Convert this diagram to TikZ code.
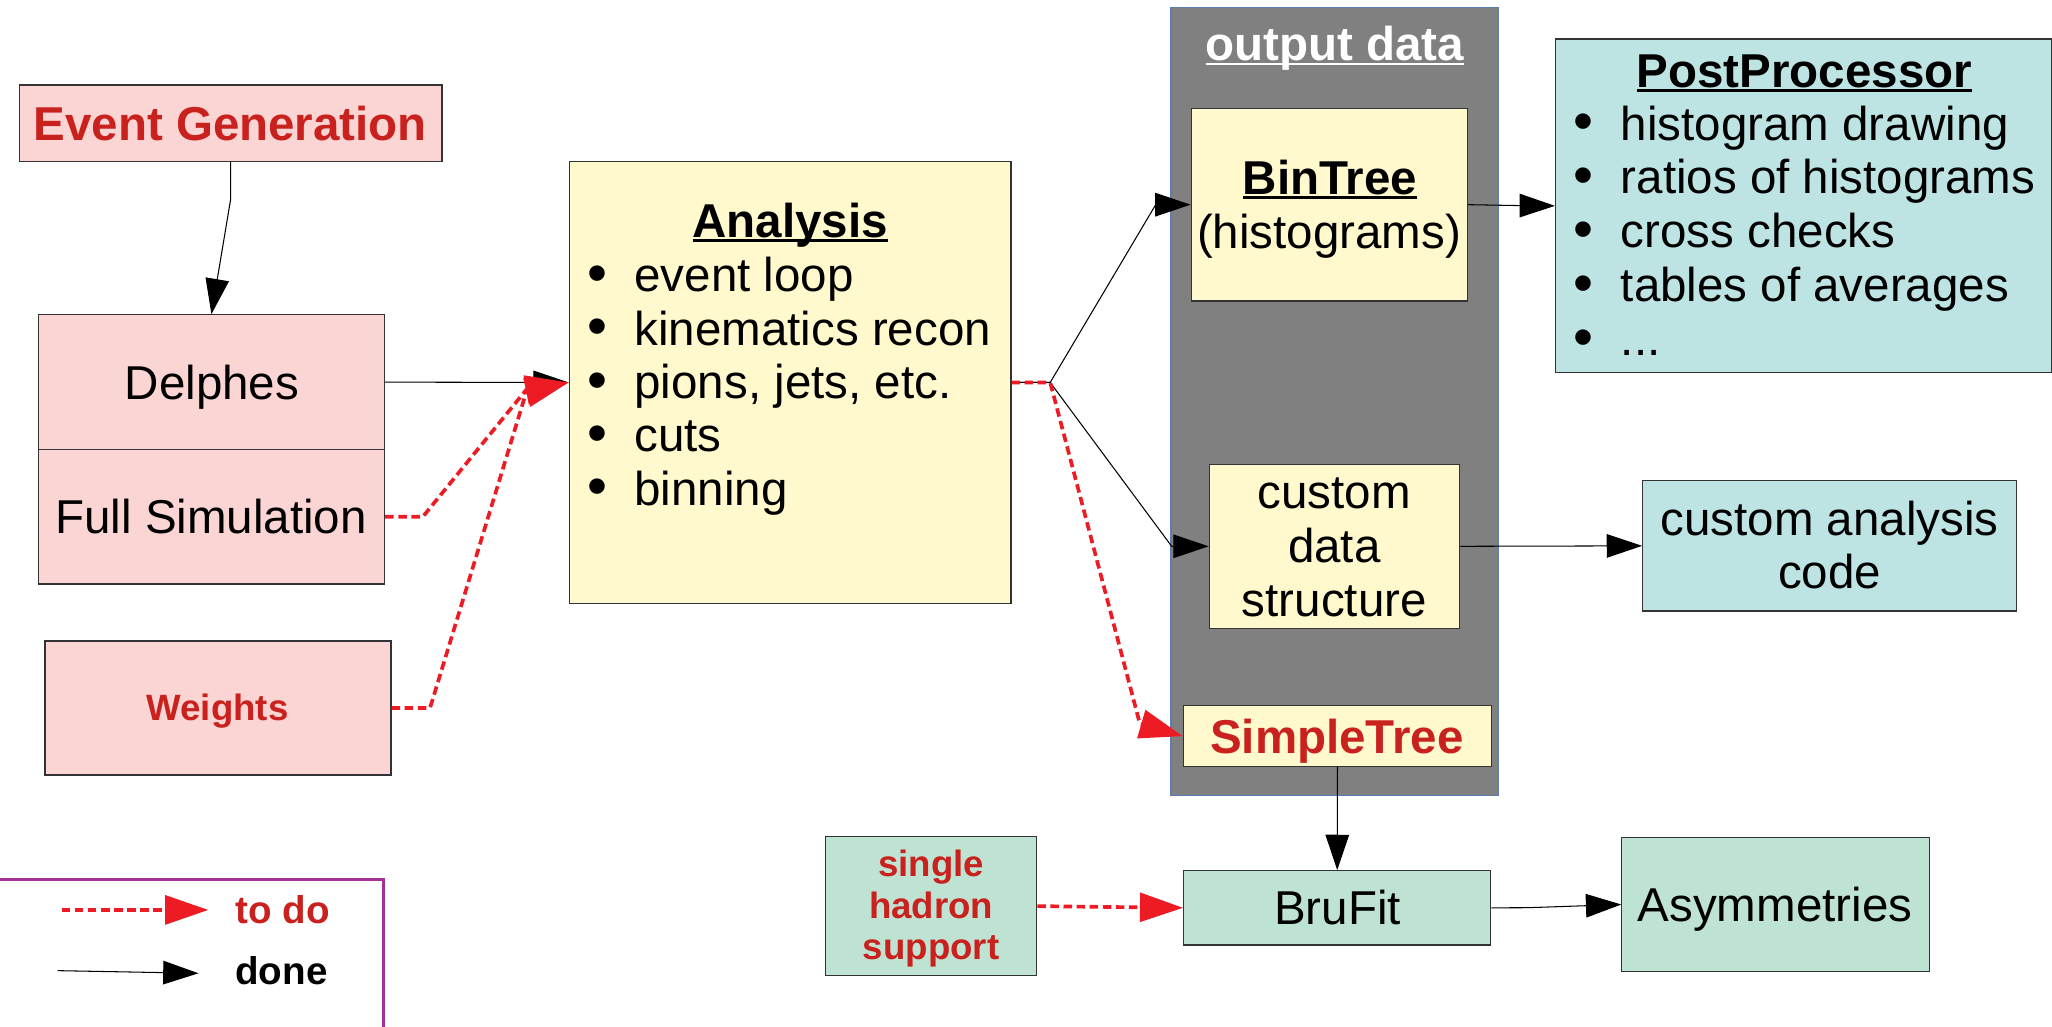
\documentclass[tikz,border=0pt]{standalone}
\usepackage{fontspec}
\setmainfont{Liberation Sans}
\usetikzlibrary{arrows.meta}
\definecolor{pinkc}{HTML}{FBD5D3}
\definecolor{yelc}{HTML}{FFF9CD}
\definecolor{tealc}{HTML}{BDE4E3}
\definecolor{greenc}{HTML}{BFE3D3}
\definecolor{redtext}{HTML}{C9211E}
\definecolor{redarrow}{HTML}{ED1C24}
\definecolor{grayc}{HTML}{808080}
\definecolor{grayline}{HTML}{5B7DB1}
\definecolor{purplec}{HTML}{A3319C}
\definecolor{boxline}{HTML}{333333}
\newcommand\myul[1]{\leavevmode\setbox0\hbox{#1}\rlap{\rule[-3.5pt]{\wd0}{2pt}}\box0}
\newcommand\bul[1]{\makebox[36pt][l]{\raisebox{-0.6pt}{\scalebox{1.2}{\textbullet}}}#1}
\tikzset{
  rbox/.style={draw=boxline, line width=0.9pt, inner sep=0pt, rectangle},
  txt/.style={font=\fontsize{36.3}{40.75}\selectfont, inner sep=0pt, anchor=base},
  ltxt/.style={font=\fontsize{36.3}{40.75}\selectfont, inner sep=0pt, anchor=base west},
  btxt/.style={font=\fontsize{36.3}{40.75}\selectfont\bfseries, inner sep=0pt, anchor=base},
  stxt/.style={font=\fontsize{28}{31.5}\selectfont\bfseries, inner sep=0pt, anchor=base, text=redtext},
  legtxt/.style={font=\fontsize{29.5}{33}\selectfont\bfseries, inner sep=0pt, anchor=base west},
  doneline/.style={draw=black, line width=0.8pt, -{Triangle[length=27pt,width=18pt]}},
  todoline/.style={draw=redarrow, line width=2.8pt, dash pattern=on 6.5pt off 3.5pt, -{Triangle[length=33pt,width=22pt]}},
}
\begin{document}
\begin{tikzpicture}[x=1pt,y=-1pt]
\useasboundingbox (0,0) rectangle (1568,784);
\fill[white] (0,0) rectangle (1568,784);

% output data container
\node[draw=grayline, line width=0.8pt, fill=grayc, inner sep=0pt, minimum width=250.1pt, minimum height=601.9pt] (od) at (1019.85,306.55) {};
\node[btxt, text=white] (odt) at (1020,46.5) {\myul{output data}};

% Event generation
\node[rbox, fill=pinkc, minimum width=323.2pt, minimum height=58.5pt] (eg) at (176.2,94.25) {};
\node[btxt, text=redtext] (egt) at (175.9,107.1) {Event Generation};

% Delphes / Full simulation
\node[rbox, fill=pinkc, minimum width=264.7pt, minimum height=103pt] (dl) at (161.55,292) {};
\node[rbox, fill=pinkc, minimum width=264.7pt, minimum height=102.8pt] (fs) at (161.55,394.9) {};
\node[txt] (dlt) at (162,305) {Delphes};
\node[txt] (fst) at (161.3,407.7) {Full Simulation};

% Weights
\node[rbox, fill=pinkc, minimum width=264.4pt, minimum height=102.4pt] (wt) at (166.6,541) {};
\node[stxt] (wtt) at (166.2,550.7) {Weights};

% Analysis
\node[rbox, fill=yelc, minimum width=337.5pt, minimum height=337.5pt] (ana) at (603.75,292.25) {};
\node[btxt] (anat) at (603.9,181.5) {\myul{Analysis}};
\node[ltxt] (an1) at (448.7,222.9) {\bul{event loop}};
\node[ltxt] (an2) at (448.7,263.65) {\bul{kinematics recon}};
\node[ltxt] (an3) at (448.7,304.4) {\bul{pions, jets, etc.}};
\node[ltxt] (an4) at (448.7,345.15) {\bul{cuts}};
\node[ltxt] (an5) at (448.7,385.9) {\bul{binning}};

% BinTree
\node[rbox, fill=yelc, minimum width=211.2pt, minimum height=147.2pt] (bt) at (1015.8,156.4) {};
\node[btxt] (btt) at (1016.3,148.5) {\myul{BinTree}};
\node[txt] (bth) at (1015.6,189.7) {(histograms)};

% custom data structure
\node[rbox, fill=yelc, minimum width=191.4pt, minimum height=125.3pt] (cd) at (1019.7,417.45) {};
\node[txt] (cd1) at (1019.6,388.4) {custom};
\node[txt] (cd2) at (1019.6,429.6) {data};
\node[txt] (cd3) at (1019.6,470.8) {structure};

% SimpleTree
\node[rbox, fill=yelc, minimum width=235.6pt, minimum height=46.6pt] (st) at (1022,562.5) {};
\node[btxt, text=redtext] (stt) at (1021.6,575.6) {SimpleTree};

% PostProcessor
\node[rbox, fill=tealc, minimum width=378.9pt, minimum height=255pt] (pp) at (1378.05,157.3) {};
\node[btxt] (ppt) at (1378.8,66.5) {\myul{PostProcessor}};
\node[ltxt] (pp1) at (1202.3,107) {\bul{histogram drawing}};
\node[ltxt] (pp2) at (1202.3,148.2) {\bul{ratios of histograms}};
\node[ltxt] (pp3) at (1202.3,189.4) {\bul{cross checks}};
\node[ltxt] (pp4) at (1202.3,230.6) {\bul{tables of averages}};
\node[ltxt] (pp5) at (1202.3,271.8) {\bul{...}};

% custom analysis code
\node[rbox, fill=tealc, minimum width=285.8pt, minimum height=99.6pt] (cac) at (1398.1,417.1) {};
\node[txt] (cac1) at (1398.1,409.3) {custom analysis};
\node[txt] (cac2) at (1398.1,449.6) {code};

% single hadron support
\node[rbox, fill=greenc, minimum width=161.3pt, minimum height=106.2pt] (sh) at (711.55,692.4) {};
\node[stxt] (sh1) at (711.5,670) {single};
\node[stxt] (sh2) at (711.5,701.5) {hadron};
\node[stxt] (sh3) at (711.5,733) {support};

% BruFit
\node[rbox, fill=greenc, minimum width=234.6pt, minimum height=56.8pt] (bf) at (1021.8,693.7) {};
\node[txt] (bft) at (1022,706.8) {BruFit};

% Asymmetries
\node[rbox, fill=greenc, minimum width=235.1pt, minimum height=102.7pt] (as) at (1356.85,691.15) {};
\node[txt] (ast) at (1356.3,703.8) {Asymmetries};

% connectors (done)
\draw[doneline] (eg.south) -- (176.2,152.5) -- (dl.north);
\draw[doneline] (dl.east) -- (ana.west);
\draw[doneline] (ana.east) -- (802.5,292.25) -- (883.1,156.4) -- (bt.west);
\draw[doneline] (ana.east) -- (802.5,292.25) -- (895.3,417.45) -- (cd.west);
\draw[doneline] (bt.east) -- (1161.5,157.1) -- (pp.west);
\draw[doneline] (cd.east) -- (cac.west);
\draw[doneline] (st.south) -- (bf.north);
\draw[doneline] (bf.east) -- (1167.3,693.6) -- (as.west);

% connectors (to do)
\draw[todoline] (fs.east) -- (323.1,394.9) -- (402,298) -- (ana.west);
\draw[todoline] (wt.east) -- (328.6,541) -- (402,300) -- (ana.west);
\draw[todoline] (ana.east) -- (802.5,292.25) -- (871,553) -- (st.west);
\draw[todoline] (sh.east) -- (bf.west);

% legend
\draw[purplec, line width=2pt] (-5,671.9) -- (293.2,671.9) -- (293.2,790);
\coordinate (tdA) at (47.2,695.3);
\coordinate (tdB) at (159.2,695.3);
\coordinate (dnA) at (44,741.7);
\coordinate (dnB) at (151.7,743.7);
\draw[todoline] (tdA) -- (tdB);
\draw[doneline] (dnA) -- (dnB);
\node[legtxt, text=redtext] (tdt) at (179.6,706) {to do};
\node[legtxt] (dnt) at (179.6,752.1) {done};
\end{tikzpicture}
\end{document}
